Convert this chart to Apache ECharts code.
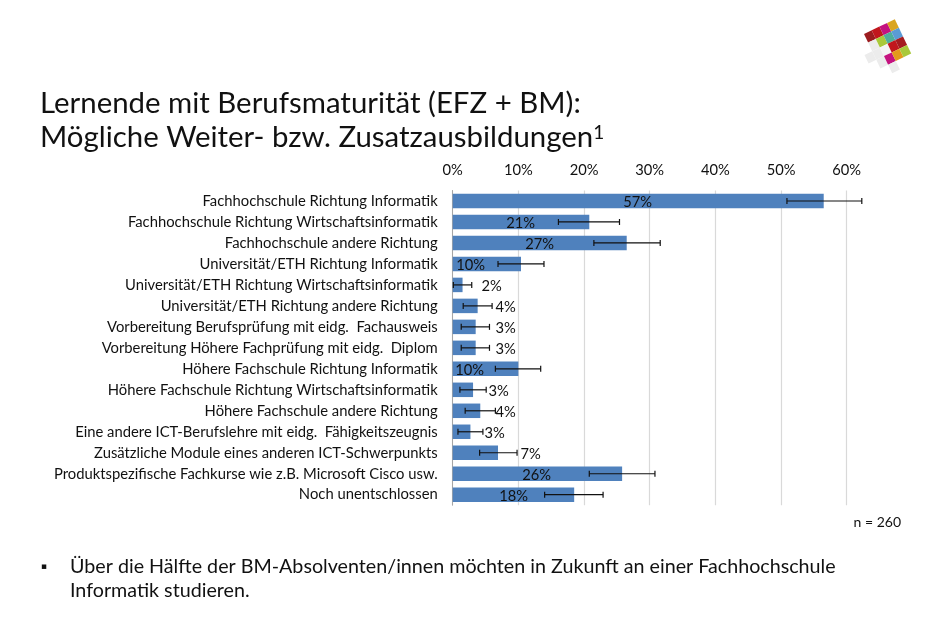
<!DOCTYPE html>
<html>
<head>
<meta charset="utf-8">
<title>Weiter- bzw. Zusatzausbildungen</title>
<script src="https://cdn.jsdelivr.net/npm/echarts@6/dist/echarts.min.js"></script>
<style>
html, body { margin: 0; padding: 0; background: #fff; }
#chart { width: 936px; height: 637px; }
</style>
</head>
<body>
<div id="chart"></div>
<script>
var categories = [
	'Fachhochschule Richtung Informatik',
	'Fachhochschule Richtung Wirtschaftsinformatik',
	'Fachhochschule andere Richtung',
	'Universität/ETH Richtung Informatik',
	'Universität/ETH Richtung Wirtschaftsinformatik',
	'Universität/ETH Richtung andere Richtung',
	'Vorbereitung Berufsprüfung mit eidg.  Fachausweis',
	'Vorbereitung Höhere Fachprüfung mit eidg.  Diplom',
	'Höhere Fachschule Richtung Informatik',
	'Höhere Fachschule Richtung Wirtschaftsinformatik',
	'Höhere Fachschule andere Richtung',
	'Eine andere ICT-Berufslehre mit eidg.  Fähigkeitszeugnis',
	'Zusätzliche Module eines anderen ICT-Schwerpunkts',
	'Produktspezifische Fachkurse wie z.B. Microsoft Cisco usw.',
	'Noch unentschlossen'
];
var values = [56.5, 20.8, 26.5, 10.4, 1.5, 3.8, 3.5, 3.5, 10.0, 3.1, 4.2, 2.7, 6.9, 25.8, 18.5];
var errLow = [50.9, 16.1, 21.5, 6.9, 0.1, 1.6, 1.3, 1.3, 6.5, 1.1, 1.9, 0.8, 4.1, 20.8, 14.0];
var errHigh = [62.3, 25.4, 31.6, 13.9, 2.9, 6.0, 5.6, 5.6, 13.4, 5.1, 6.5, 4.6, 9.8, 30.8, 22.9];
var valueLabels = ['57%', '21%', '27%', '10%', '2%', '4%', '3%', '3%', '10%', '3%', '4%', '3%', '7%', '26%', '18%'];

var FONT = 'Lato';
// where each label sits, px from the bar start (as placed in the original slide)
var labelCenter = [185, 68, 87, 18, 39, 53, 53, 53, 17, 46, 53, 42, 78, 84, 61];

var myChart = echarts.init(document.getElementById('chart'));

// logo: tilted grid of coloured cells
var logoColors = [
	['#9c1c1f', '#c1171d', '#c4127f', '#d9a520'],
	['#ececec', '#a9c93a', '#4fae9a', '#5b9bd5'],
	['#ececec', '#f4f4f4', '#c1171d', '#a51c20'],
	['#ececec', '#c4127f', '#e39a1c', '#a9c93a']
];
var logoExtra = [[2, -1], [4, 1]];
function logoCell(r, c, color) {
	var ox = 864, oy = 34, ux = 7.7, uy = -3.7, vx = 4.1, vy = 8.6;
	var x0 = ox + ux * c + vx * r, y0 = oy + uy * c + vy * r;
	return {
		type: 'polygon',
		silent: true,
		shape: { points: [[x0, y0], [x0 + ux, y0 + uy], [x0 + ux + vx, y0 + uy + vy], [x0 + vx, y0 + vy]] },
		style: { fill: color }
	};
}
function logoCells() {
	var out = [];
	for (var r = 0; r < logoColors.length; r++) {
		for (var c = 0; c < 4; c++) {
			out.push(logoCell(r, c, logoColors[r][c]));
		}
	}
	for (var i = 0; i < logoExtra.length; i++) {
		out.push(logoCell(logoExtra[i][0], logoExtra[i][1], '#ececec'));
	}
	return out;
}

var option = {
	backgroundColor: '#fff',
	animation: false,
	textStyle: { fontFamily: FONT },
	title: [
		{
			left: 40, top: 89, padding: 0,
			text: 'Lernende mit Berufsmaturität (EFZ + BM):',
			textStyle: { fontFamily: FONT, fontSize: 29.4, fontWeight: 'normal', color: '#111' }
		},
		{
			left: 40, top: 123, padding: 0,
			text: 'Mögliche Weiter- bzw. Zusatzausbildungen{sup|1}',
			textStyle: {
				fontFamily: FONT, fontSize: 29.4, fontWeight: 'normal', color: '#111',
				rich: { sup: { fontFamily: FONT, fontSize: 19, verticalAlign: 'top', padding: [0, 0, 10, 0], color: '#111' } }
			}
		},
		{
			right: 35, top: 515, padding: 0,
			text: 'n = 260',
			textStyle: { fontFamily: FONT, fontSize: 14, fontWeight: 'normal', color: '#111' }
		},
		{
			left: 41, top: 562, padding: 0,
			text: '▪',
			textStyle: { fontFamily: 'DejaVu Sans', fontSize: 9, fontWeight: 'normal', color: '#111' }
		},
		{
			left: 70, top: 557, padding: 0,
			text: 'Über die Hälfte der BM-Absolventen/innen möchten in Zukunft an einer Fachhochschule',
			textStyle: { fontFamily: FONT, fontSize: 19.7, fontWeight: 'normal', color: '#111' }
		},
		{
			left: 70, top: 581, padding: 0,
			text: 'Informatik studieren.',
			textStyle: { fontFamily: FONT, fontSize: 19.7, fontWeight: 'normal', color: '#111' }
		}
	],
	grid: { left: 452.7, top: 190.5, width: 394, height: 314.7, containLabel: false },
	xAxis: {
		type: 'value',
		position: 'top',
		min: 0,
		max: 60,
		interval: 10,
		axisLine: { show: false },
		axisTick: { show: false },
		axisLabel: { formatter: '{value}%', fontFamily: FONT, fontSize: 14.7, color: '#111', margin: 13 },
		splitLine: { show: true, lineStyle: { color: '#d9d9d9', width: 1.2 } }
	},
	yAxis: {
		type: 'category',
		inverse: true,
		data: categories,
		axisLine: { show: true, lineStyle: { color: '#a6a6a6', width: 1 } },
		axisTick: { show: false },
		axisLabel: { fontFamily: FONT, fontSize: 14.8, color: '#111', margin: 15, padding: [4, 0, 0, 0] }
	},
	series: [
		{
			type: 'bar',
			barWidth: 14.5,
			itemStyle: { color: '#4f81bd' },
			data: values.map(function (v, i) {
				return {
					value: v,
					label: {
						show: true,
						position: [labelCenter[i], 9],
						align: 'center',
						verticalAlign: 'middle',
						formatter: valueLabels[i],
						fontFamily: FONT,
						fontSize: 14.7,
						color: '#111'
					}
				};
			})
		},
		{
			type: 'custom',
			clip: false,
			z: 5,
			data: errLow.map(function (v, i) { return [errLow[i], errHigh[i], i]; }),
			encode: { x: [0, 1], y: 2 },
			renderItem: function (params, api) {
				var low = api.coord([api.value(0), api.value(2)]);
				var high = api.coord([api.value(1), api.value(2)]);
				var st = { stroke: '#111', lineWidth: 1.2, fill: null };
				return {
					type: 'group',
					children: [
						{ type: 'line', shape: { x1: low[0], y1: low[1], x2: high[0], y2: high[1] }, style: st },
						{ type: 'line', shape: { x1: low[0], y1: low[1] - 3, x2: low[0], y2: low[1] + 3 }, style: st },
						{ type: 'line', shape: { x1: high[0], y1: high[1] - 3, x2: high[0], y2: high[1] + 3 }, style: st }
					]
				};
			}
		}
	],
	graphic: logoCells()
};
myChart.setOption(option);
</script>
</body>
</html>
